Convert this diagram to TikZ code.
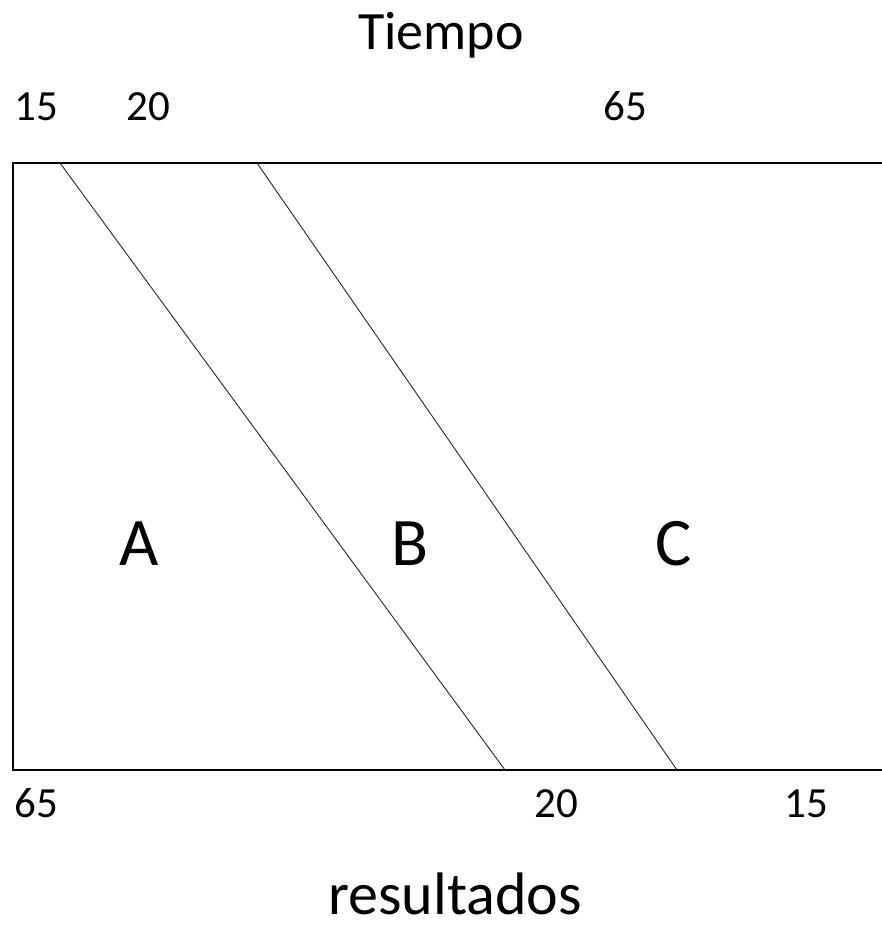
\documentclass[tikz,border=0pt]{standalone}
\usepackage{fontspec}
\setmainfont{Carlito}
\begin{document}
\begin{tikzpicture}[x=1pt,y=-1pt,
  lbl/.style={inner sep=0pt,anchor=base west,font=\fontsize{43}{43}\selectfont},
  big/.style={inner sep=0pt,anchor=base west,font=\fontsize{68}{68}\selectfont},
  ttl/.style={inner sep=0pt,anchor=base,font=\fontsize{54}{54}\selectfont},
  res/.style={inner sep=0pt,anchor=base,font=\fontsize{60}{60}\selectfont},
  frame/.style={line width=1.4pt},
  div/.style={line width=0.9pt,black!85}]
\useasboundingbox (0,0) rectangle (882,940);
\coordinate (tl) at (13,163);
\coordinate (tr) at (882,163);
\coordinate (bl) at (13,770);
\coordinate (br) at (882,770);
\draw[frame] (tr) -- (tl) -- (bl) -- (br);
\coordinate (a1) at (60,163);
\coordinate (a2) at (505,770);
\coordinate (b1) at (257,163);
\coordinate (b2) at (677,770);
\draw[div] (a1) -- (a2);
\draw[div] (b1) -- (b2);
\node[ttl] (t) at (441,49) {Tiempo};
\node[lbl] (t15) at (14,120) {15};
\node[lbl] (t20) at (126,120) {20};
\node[lbl] (t65) at (603,120) {65};
\node[lbl] (b65) at (14,817) {65};
\node[lbl] (b20) at (534,817) {20};
\node[lbl] (b15) at (784,817) {15};
\node[big] (A) at (119,565) {A};
\node[big] (B) at (391,565) {B};
\node[big] (C) at (655,565) {C};
\node[res] (r) at (455,914) {resultados};
\end{tikzpicture}
\end{document}
